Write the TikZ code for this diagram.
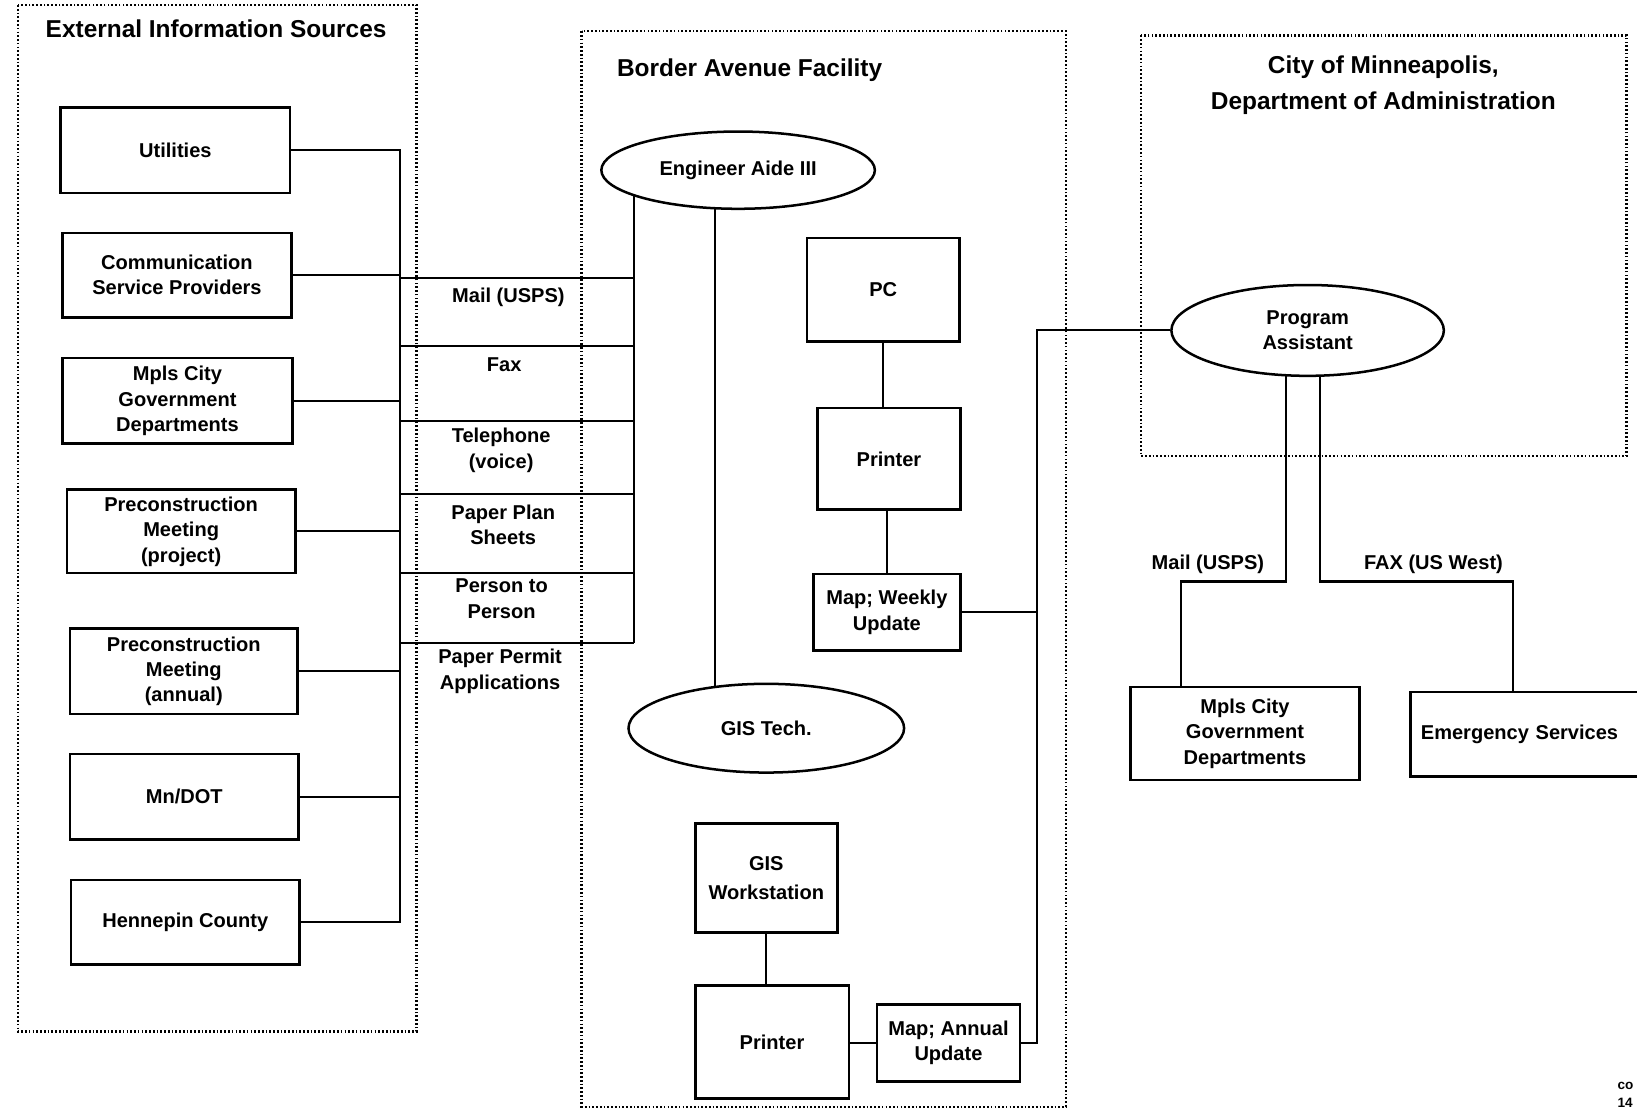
\documentclass[tikz,border=0pt]{standalone}
\usepackage{fontspec}
\setmainfont{Liberation Sans}
\usetikzlibrary{shapes.geometric,backgrounds}

\begin{document}
\begin{tikzpicture}[x=0.5pt,y=-0.5pt,
  every node/.style={font=\bfseries\fontsize{9.6}{12.2}\selectfont, align=center},
  box/.style={draw, line width=1.2pt, fill=white, inner sep=0pt},
  oval/.style={ellipse, draw, line width=1.2pt, fill=white, inner sep=0pt},
  link/.style={line width=1pt},
  frame/.style={line width=1.1pt, dash pattern=on 0.8pt off 1pt},
  title/.style={font=\bfseries\fontsize{11.7}{17.5}\selectfont},
  tiny/.style={font=\bfseries\fontsize{6.5}{8}\selectfont, anchor=west, inner sep=0pt},
]
\useasboundingbox (0,0) rectangle (1568,1063);
\clip (0,0) rectangle (1568,1063);

% ---- group titles
\node[title] (exttitle) at (207,28) {External Information Sources};
\node[title] (bordtitle) at (718,67) {Border Avenue Facility};
\node[title] (citytitle) at (1325,81.5) {City of Minneapolis,\\Department of Administration};

% ---- external sources
\node[box, minimum width=110pt,   minimum height=41pt]   (util)  at (168,144)     {Utilities};
\node[box, minimum width=109.5pt, minimum height=40.5pt] (comm)  at (169.5,263.5) {Communication\\Service Providers};
\node[box, minimum width=110pt,   minimum height=41pt]   (mpls)  at (170,384)     {Mpls City\\Government\\Departments};
\node[box, minimum width=109.5pt, minimum height=40pt]   (precp) at (173.5,509)   {Preconstruction\\Meeting\\(project)};
\node[box, minimum width=109pt,   minimum height=41pt]   (preca) at (176,643)     {Preconstruction\\Meeting\\(annual)};
\node[box, minimum width=109.5pt, minimum height=41pt]   (mndot) at (176.5,763)   {Mn/DOT};
\node[box, minimum width=109.5pt, minimum height=40.5pt] (hen)   at (177.5,883.5) {Hennepin County};

% ---- channel labels
\node (lmail)   at (487,285)   {Mail (USPS)};
\node (lfax)    at (483,349)   {Fax};
\node (ltel)    at (480,431.5) {Telephone\\(voice)};
\node (lplan)   at (482,502.5) {Paper Plan\\Sheets};
\node (lperson) at (480.5,573.5) {Person to\\Person};
\node (lpermit) at (479,643)   {Paper Permit\\Applications};

% ---- Border Avenue facility
\node[oval, minimum width=131pt, minimum height=37pt]   (eng)  at (707,163)     {Engineer Aide III};
\node[oval, minimum width=132pt, minimum height=42.5pt] (gis)  at (734,697.5)   {GIS Tech.};
\node[box, minimum width=73pt,   minimum height=49.5pt] (pc)   at (846,277.5)   {PC};
\node[box, minimum width=68.5pt, minimum height=48.5pt] (prn)  at (851.5,439.5) {Printer};
\node[box, minimum width=70.5pt, minimum height=36.5pt] (mapw) at (849.5,586.5) {Map; Weekly\\Update};
\node[box, minimum width=68pt,   minimum height=52pt]   (ws)   at (734,841)     {GIS\\[1.5pt]Workstation};
\node[box, minimum width=73.5pt, minimum height=54pt]   (prn2) at (739.5,998)   {Printer};
\node[box, minimum width=68.5pt, minimum height=37pt]   (mapa) at (908.5,999)   {Map; Annual\\Update};

% ---- City of Minneapolis
\node[oval, minimum width=130.5pt, minimum height=43.5pt] (pa) at (1252.5,316.5) {Program\\Assistant};
\node (lmail2) at (1157,541) {Mail (USPS)};
\node (lfax2)  at (1373,541) {FAX (US West)};
\node[box, minimum width=109.5pt, minimum height=44.5pt] (mplsR) at (1192.5,702.5) {Mpls City\\Government\\Departments};
\node[box, minimum width=119.5pt, minimum height=40.5pt, text width=109.5pt,
      align=left, inner xsep=5pt] (emer) at (1470.5,703.5) {Emergency Services\\[8pt]};

\node[tiny] (foot1) at (1549,1040) {co};
\node[tiny] (foot2) at (1549,1056) {14};

% ---- routing points
\coordinate (bus)   at (383,0);
\coordinate (lad)   at (607,0);
\coordinate (gisx)  at (685,0);
\coordinate (trunk) at (993,0);
\coordinate (m1) at (1232,557);
\coordinate (m2) at (1131,557);
\coordinate (f1) at (1264,557);
\coordinate (f2) at (1449,557);

\begin{pgfonlayer}{background}
  % dotted group frames
  \draw[frame] (17,5) rectangle (399,988);
  \draw[frame] (557,30) rectangle (1021,1060);
  \draw[frame] (1093,34) rectangle (1558,437);

  % sources onto the bus
  \draw[link] (util.east) -- (util.east -| bus) -- (hen.east -| bus) -- (hen.east);
  \foreach \n in {comm,mpls,precp,preca,mndot}
    \draw[link] (\n.east) -- (\n.east -| bus);

  % channel ladder up to Engineer Aide III
  \foreach \yy in {266,331,403,473,549,616}
    \draw[link] (bus |- 0,\yy) -- (lad |- 0,\yy);
  \draw[link] (eng.center -| lad) -- (lad |- 0,616);

  % inside the facility
  \draw[link] (eng.center -| gisx) -- (gis.center -| gisx);
  \draw[link] (pc.south) -- (pc.south |- prn.north);
  \draw[link] (mapw.north |- prn.south) -- (mapw.north);
  \draw[link] (ws.south) -- (ws.south |- prn2.north);
  \draw[link] (prn2.east |- mapa.west) -- (mapa.west);

  % map updates to the Program Assistant
  \draw[link] (mapw.east) -- (mapw.east -| trunk);
  \draw[link] (pa.west) -- (pa.west -| trunk) -- (mapa.east -| trunk) -- (mapa.east);

  % Program Assistant outputs
  \draw[link] (pa.center -| m1) -- (m1) -- (m2) -- (m2 |- mplsR.north);
  \draw[link] (pa.center -| f1) -- (f1) -- (f2) -- (f2 |- emer.north);
\end{pgfonlayer}
\end{tikzpicture}
\end{document}
